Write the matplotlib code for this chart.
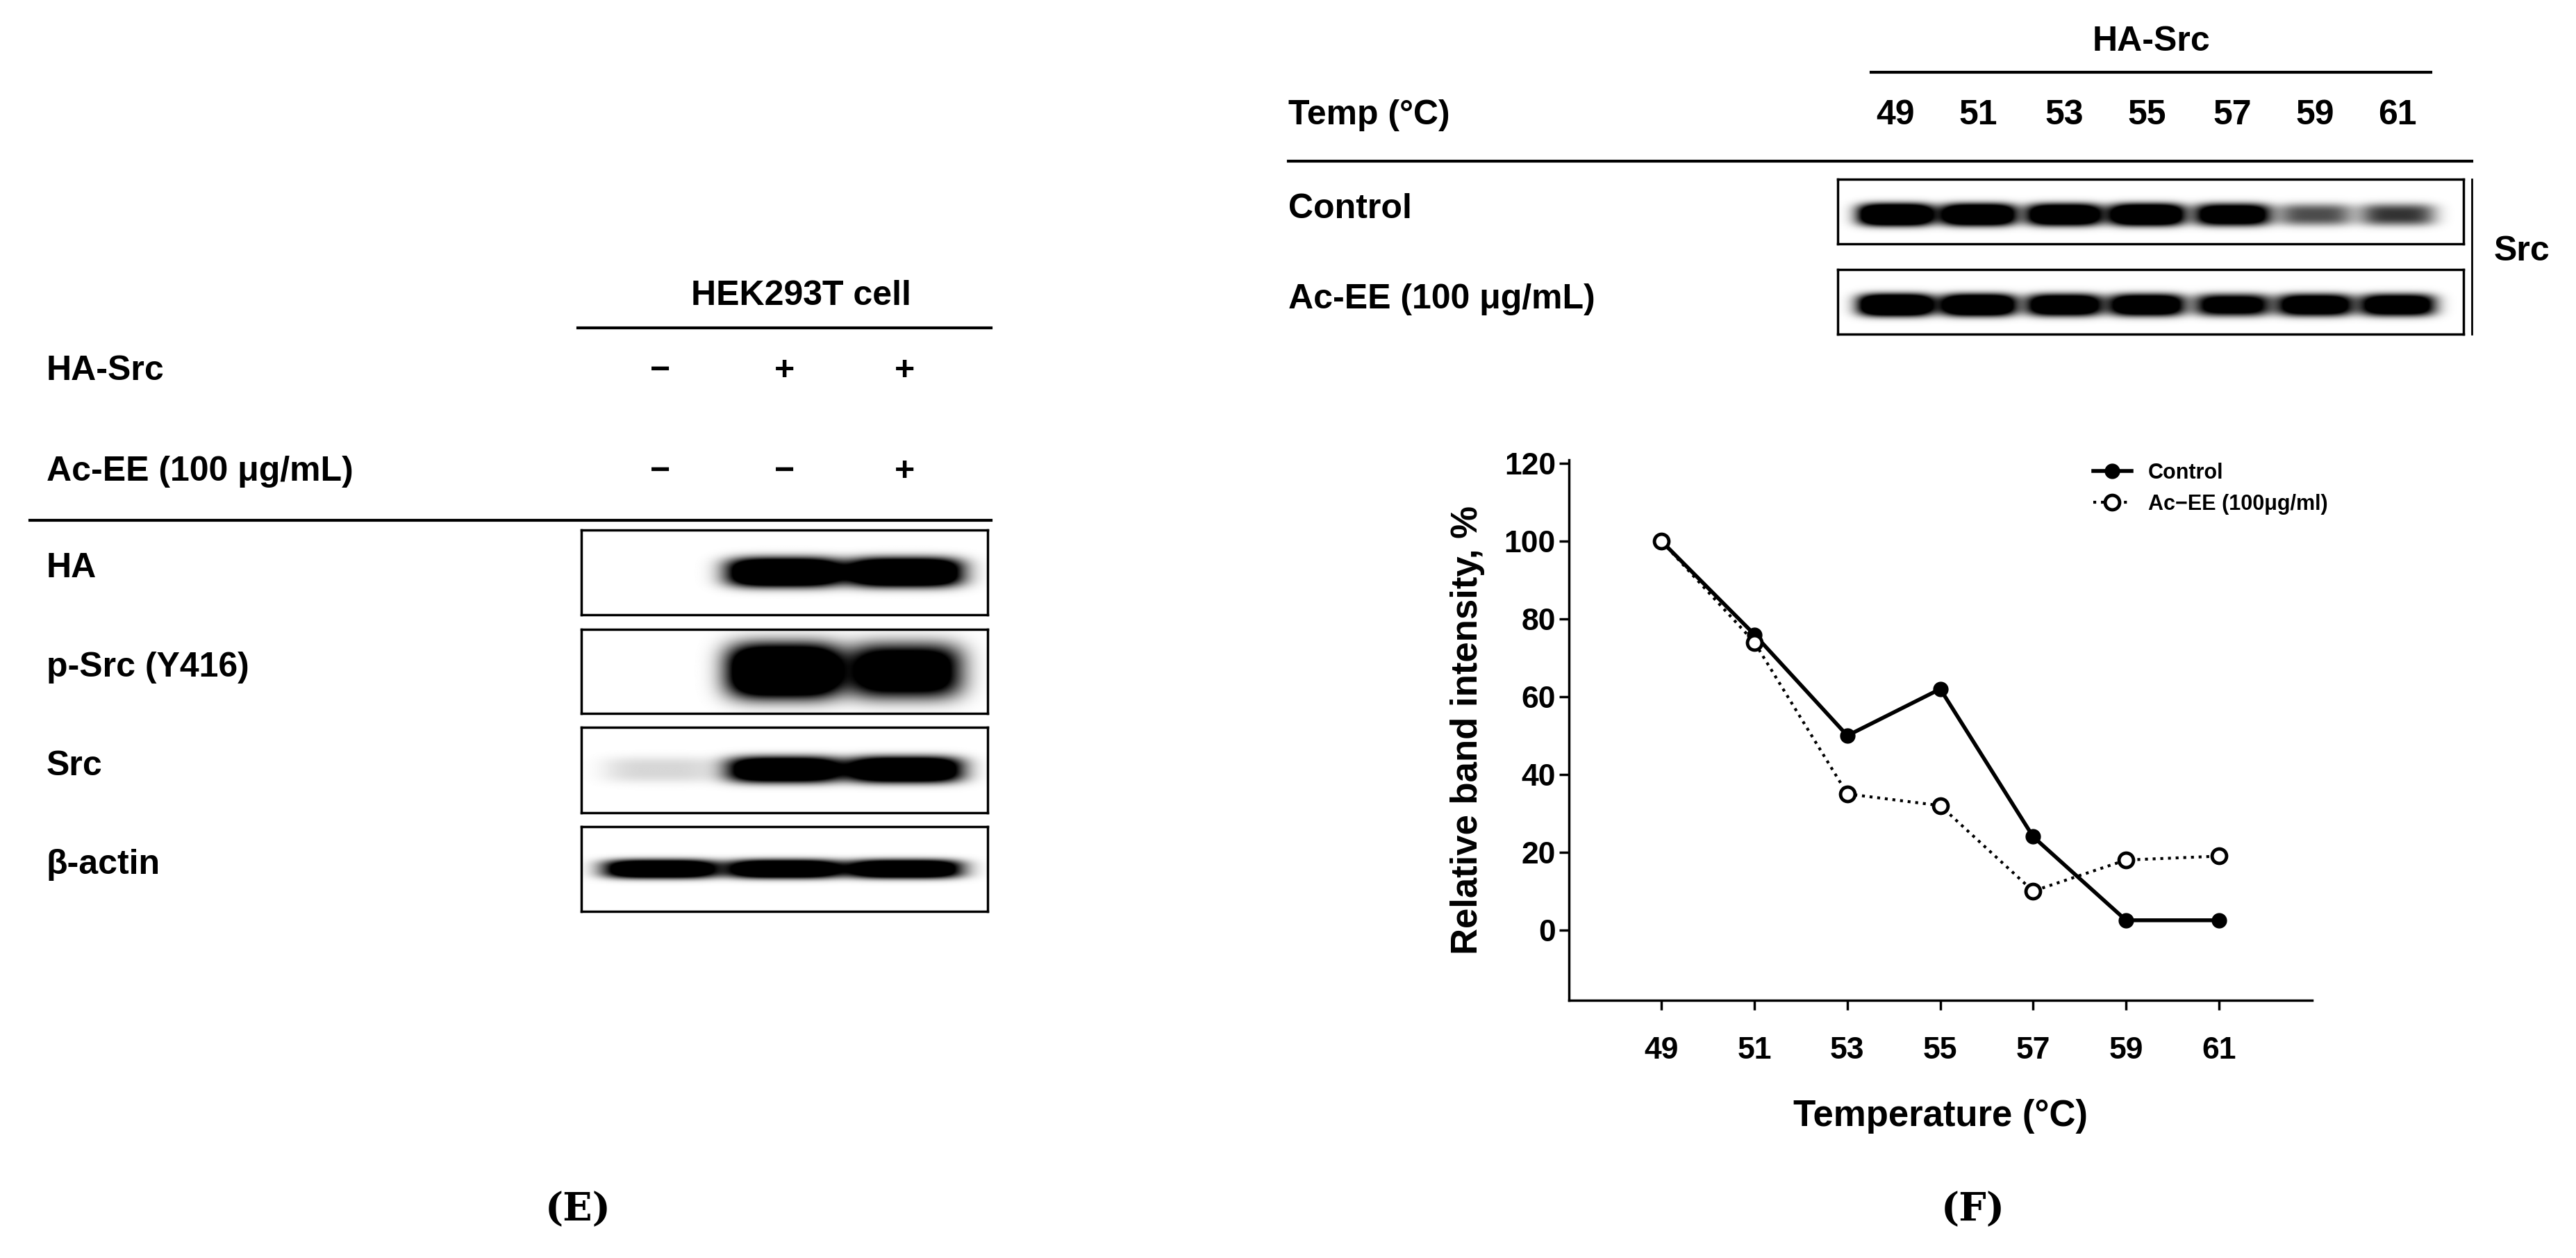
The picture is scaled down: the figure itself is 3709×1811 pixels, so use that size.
import numpy as np
import matplotlib
matplotlib.use('Agg')
from matplotlib import pyplot as plt

plt.rcParams['font.family'] = ['Liberation Sans', 'DejaVu Sans']
plt.rcParams['font.weight'] = 'bold'

# line plot data (panel F)
temps = [49, 51, 53, 55, 57, 59, 61]
control = [100, 76, 50, 62, 24, 2.5, 2.5]
acee = [100, 74, 35, 32, 10, 18, 19]
yticks = [0, 20, 40, 60, 80, 100, 120]

# panel E blot lanes
e_hasrc = ['\u2212', '+', '+']
e_acee = ['\u2212', '\u2212', '+']
e_blots = ['HA', 'p-Src (Y416)', 'Src', '\u03b2-actin']
e_bands = [[0, 1, 1], [0, 1, 0.75], [0.08, 0.9, 0.95], [0.9, 0.9, 0.9]]
# panel F blot lanes
f_blots = ['Control', 'Ac-EE (100 \u03bcg/mL)']
f_bands = [[1, 0.95, 0.9, 0.95, 0.8, 0.35, 0.4], [1, 0.95, 0.85, 0.85, 0.7, 0.8, 0.8]]

W, H = 1560.0, 1560.0
fig = plt.figure(figsize=(37.09, 18.11), dpi=100)


def fx(x):
    return x / W


def fy(y):
    return 1 - y / H


def txt(x, y, s, size=36, ha='left', **kw):
    fig.text(fx(x), fy(y), s, fontsize=size, ha=ha, va='center', fontweight='bold', **kw)


def hline(x0, x1, y, lw=3):
    fig.add_artist(plt.Line2D([fx(x0), fx(x1)], [fy(y), fy(y)], color='black', lw=lw))


def blot(x0, x1, y0, y1, vals, centers, wx=0.09, wy=0.16, cy=0.5):
    ax = fig.add_axes([fx(x0), fy(y1), fx(x1) - fx(x0), fy(y0) - fy(y1)])
    xx, yy = np.meshgrid(np.linspace(0, 1, 600), np.linspace(0, 1, 150))
    img = np.zeros_like(xx)
    for v, c in zip(vals, centers):
        img += 2.0 * v * np.exp(-((xx - c) / wx) ** 4) * np.exp(-np.abs((yy - cy) / wy) ** 3)
    ax.imshow(np.clip(img, 0, 1), cmap='gray_r', vmin=0, vmax=1, aspect='auto',
              extent=[0, 1, 0, 1], interpolation='bilinear')
    ax.set_xticks([])
    ax.set_yticks([])
    for sp in ax.spines.values():
        sp.set_linewidth(2.5)
    return ax


# ---------------- panel E
txt(485, 367, 'HEK293T cell', ha='center')
hline(350, 600, 407)
lanes_e = [400, 475, 548]
txt(28, 460, 'HA-Src')
txt(28, 585, 'Ac-EE (100 \u03bcg/mL)')
for x, a, b in zip(lanes_e, e_hasrc, e_acee):
    txt(x, 460, a, ha='center')
    txt(x, 585, b, ha='center')
hline(18, 600, 645)
boxes_e = [(657, 762), (780, 885), (902, 1008), (1025, 1130)]
centers_e = [(x - 352) / 246.0 for x in lanes_e]
wys = [0.17, 0.32, 0.15, 0.11]
for (y0, y1), name, vals, wy in zip(boxes_e, e_blots, e_bands, wys):
    blot(352, 598, y0, y1, vals, centers_e, wx=0.14, wy=wy)
    txt(28, (y0 + y1) / 2 - 5, name)
txt(330, 1500, '(E)', size=40, family='DejaVu Serif')

# ---------------- panel F blots
txt(1303, 52, 'HA-Src', ha='center')
hline(1133, 1472, 90)
txt(780, 143, 'Temp (\u00b0C)')
lanes_f = [1148, 1198, 1250, 1300, 1352, 1402, 1452]
for x, t in zip(lanes_f, temps):
    txt(x, 143, str(t), ha='center')
hline(780, 1497, 200)
centers_f = [(x - 1113) / 379.0 for x in lanes_f]
for (y0, y1), name, vals in zip([(222, 302), (334, 414)], f_blots, f_bands):
    blot(1113, 1492, y0, y1, vals, centers_f, wx=0.06, wy=0.17, cy=0.55)
    txt(780, (y0 + y1) / 2 - 3, name)
fig.add_artist(plt.Line2D([fx(1497), fx(1497)], [fy(222), fy(414)], color='black', lw=2))
txt(1510, 312, 'Src')

# ---------------- panel F line chart
ax = fig.add_axes([fx(950), fy(1240), fx(1400) - fx(950), fy(570) - fy(1240)])
ax.plot(temps, control, '-o', color='black', lw=4, ms=15, label='Control')
ax.plot(temps, acee, ':o', color='black', lw=3, ms=15, mfc='white', mew=3.5,
        label='Ac\u2212EE (100\u03bcg/ml)')
ax.set_xlim(47, 63)
ax.set_ylim(-18, 121)
ax.set_xticks(temps)
ax.set_yticks(yticks)
ax.spines['top'].set_visible(False)
ax.spines['right'].set_visible(False)
for sp in ax.spines.values():
    sp.set_linewidth(2.5)
ax.tick_params(axis='both', width=2.5, length=10, labelsize=32)
ax.tick_params(axis='x', pad=28)
for lab in ax.get_xticklabels() + ax.get_yticklabels():
    lab.set_fontweight('bold')
ax.set_xlabel('Temperature (\u00b0C)', fontsize=38, fontweight='bold', labelpad=35)
ax.set_ylabel('Relative band intensity, %', fontsize=38, fontweight='bold', labelpad=20)
ax.legend(loc='upper left', bbox_to_anchor=(0.68, 1.03), frameon=False,
          handlelength=1.8, prop={'weight': 'bold', 'size': 22})
txt(1195, 1500, '(F)', size=40, family='DejaVu Serif', ha='center')

fig.savefig('out.png', dpi=100)
